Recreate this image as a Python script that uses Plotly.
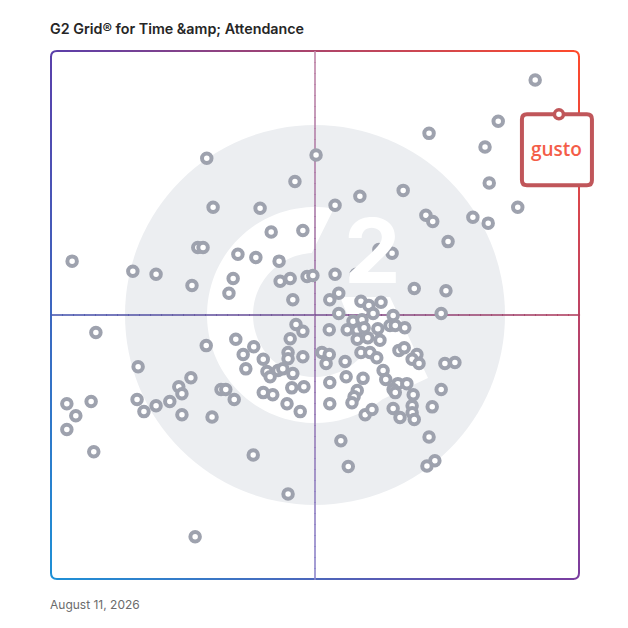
import numpy as np
import plotly.graph_objects as go

# ---------------- data (Satisfaction = x, Market Presence = y, 0-100) -------------
satisfaction = [
    91.7, 84.7, 71.6, 82.2, 83.0, 88.4, 79.9, 82.8, 71.0, 72.3, 75.2, 66.7, 58.5, 53.8, 50.2,
    46.2, 29.5, 30.7, 39.6, 41.7, 47.7, 27.8, 28.8, 35.4, 38.8, 43.2, 62.1, 64.6, 4.0, 15.5,
    19.9, 26.7, 34.5, 33.7, 43.4, 45.3, 48.5, 49.6, 53.8, 57.8, 45.8, 52.8, 54.5, 68.8, 74.8,
    58.7, 60.2, 62.5, 61.0, 54.5, 73.9, 64.8, 64.2, 65.2, 67.0, 46.4, 47.7, 52.7, 56.1, 57.2,
    58.0, 58.9, 59.3, 61.9, 58.0, 60.0, 62.3, 45.3, 35.0, 29.4, 38.4, 8.5, 36.4, 44.9, 44.9,
    47.7, 40.2, 51.3, 52.7, 52.1, 55.7, 58.7, 60.4, 61.7, 65.9, 66.9, 69.3, 68.4, 69.7, 74.6,
    76.5, 16.5, 36.9, 40.9, 41.5, 43.0, 43.9, 45.8, 62.9, 63.4, 52.8, 55.9, 59.1, 65.7, 67.4,
    26.5, 24.2, 24.8, 22.5, 19.9, 16.3, 17.6, 7.6, 3.0, 4.7, 3.0, 8.1, 24.8, 30.5, 32.2,
    33.1, 34.7, 40.2, 42.0, 45.6, 47.9, 44.7, 47.2, 52.8, 58.0, 57.4, 57.0, 59.5, 60.8, 64.8,
    65.2, 68.6, 64.8, 66.1, 68.4, 68.4, 68.8, 72.2, 73.9, 71.6, 72.7, 71.2, 56.3, 54.9, 38.3,
    44.9, 27.3,
]
market_presence = [
    94.5, 86.7, 84.4, 81.8, 75.0, 70.4, 68.5, 67.4, 68.9, 67.7, 63.9, 73.6, 72.5, 70.8, 80.3,
    75.3, 79.7, 70.4, 70.2, 65.7, 66.0, 62.8, 62.8, 61.5, 60.9, 60.2, 62.4, 61.7, 60.2, 58.3,
    57.7, 55.6, 56.9, 54.1, 56.4, 56.9, 57.3, 57.5, 57.7, 57.7, 52.9, 52.9, 54.1, 55.0, 54.6,
    52.6, 51.8, 52.4, 50.3, 50.3, 50.3, 49.9, 48.0, 48.0, 47.6, 48.2, 46.9, 47.2, 47.2, 48.8,
    47.1, 49.1, 47.6, 47.4, 45.4, 45.7, 45.2, 45.5, 45.4, 44.2, 44.0, 46.7, 42.5, 42.9, 41.7,
    42.1, 41.6, 42.9, 42.5, 40.8, 41.2, 42.9, 42.9, 41.9, 43.3, 43.8, 42.5, 41.6, 40.8, 40.8,
    41.0, 40.2, 39.8, 39.3, 38.3, 39.5, 39.8, 38.9, 39.5, 37.8, 37.2, 38.3, 38.0, 37.0, 37.0,
    38.1, 36.4, 35.1, 33.6, 32.8, 34.0, 31.7, 33.6, 33.2, 30.9, 28.3, 24.1, 31.1, 30.7, 35.9,
    35.9, 34.0, 35.3, 34.9, 36.2, 36.4, 33.2, 31.7, 33.2, 35.7, 34.5, 33.4, 31.1, 32.1, 35.9,
    35.3, 34.9, 32.3, 30.6, 32.8, 31.5, 30.2, 32.6, 35.9, 26.9, 22.4, 21.4, 21.3, 26.2, 23.5,
    16.1, 8.0,
]
highlight_name = "gusto"
highlight_x = [96.2]
highlight_y = [88.0]

title_text = "G2 Grid® for Time &amp;amp; Attendance"
date_text = "August 11, 2026"

X_RANGE = [0, 100]
Y_RANGE = [0, 100]

# ---------------- helpers for decoration -------------------------------------------
L, T, W = 51, 51, 528  # plot area on the page, px (square)


def px2paper(px, py):
    return (px - L) / W, (T + W - py) / W


def rgb(c):
    return "rgb({},{},{})".format(*[int(round(v)) for v in c])


def lerp(a, b, t):
    return tuple(a[i] + (b[i] - a[i]) * t for i in range(3))


TL = (90, 63, 170)
TR = (255, 74, 43)
BL = (30, 144, 214)
BR = (122, 61, 160)

shapes = []

# watermark circle
cx, cy = 0.5, 0.5
R = 190 / W
shapes.append(dict(type="circle", xref="paper", yref="paper", x0=cx - R, x1=cx + R,
                   y0=cy - R, y1=cy + R, fillcolor="#eceef1", line=dict(width=0), layer="below"))

# white "G" shape
C = (315.0, 315.0)
ro, ri = 108.0, 62.0


def pol(r, adeg):
    a = np.deg2rad(adeg)
    return (C[0] + r * np.cos(a), C[1] - r * np.sin(a))


pts = []
for a in np.linspace(80, 308.7, 80):
    pts.append(pol(ro, a))
pts += [(428, 378), (390, 297), (340, 297), (363.6, 353.5)]
for a in np.linspace(321.6, 93, 80):
    pts.append(pol(ri, a))
path = "M " + " L ".join("{:.5f},{:.5f}".format(*px2paper(*p)) for p in pts) + " Z"
shapes.append(dict(type="path", xref="paper", yref="paper", path=path,
                   fillcolor="white", line=dict(width=0), layer="below"))

# gradient border
N = 48
rx = 6 / W
ry = 6 / W
bw = 2


def seg_line(x0, y0, x1, y1, col, width):
    shapes.append(dict(type="line", xref="paper", yref="paper", x0=x0, y0=y0, x1=x1, y1=y1,
                       line=dict(color=rgb(col), width=width), layer="below"))


xs = np.linspace(rx, 1 - rx, N + 1)
for i in range(N):
    t = (xs[i] + xs[i + 1]) / 2
    seg_line(xs[i], 1, xs[i + 1] + 0.002, 1, lerp(TL, TR, t), bw)
    seg_line(xs[i], 0, xs[i + 1] + 0.002, 0, lerp(BL, BR, t), bw)
ys = np.linspace(ry, 1 - ry, N + 1)
for i in range(N):
    t = 1 - (ys[i] + ys[i + 1]) / 2
    seg_line(0, ys[i], 0, ys[i + 1] + 0.002, lerp(TL, BL, t), bw)
    seg_line(1, ys[i], 1, ys[i + 1] + 0.002, lerp(TR, BR, t), bw)
corners = [
    ("M 0,{} Q 0,1 {},1".format(1 - ry, rx), TL),
    ("M {},1 Q 1,1 1,{}".format(1 - rx, 1 - ry), TR),
    ("M 0,{} Q 0,0 {},0".format(ry, rx), BL),
    ("M {},0 Q 1,0 1,{}".format(1 - rx, ry), BR),
]
for p, col in corners:
    shapes.append(dict(type="path", xref="paper", yref="paper", path=p,
                       line=dict(color=rgb(col), width=bw), layer="below"))

# gradient quadrant lines
V_TOP, V_MID, V_BOT = (192, 134, 168), (158, 116, 170), (141, 134, 204)
H_LEFT, H_MID, H_RIGHT = (74, 90, 178), (123, 85, 150), (178, 64, 95)
M = 48
vals = np.linspace(0, 1, M + 1)
for i in range(M):
    t = (vals[i] + vals[i + 1]) / 2
    cv = lerp(V_TOP, V_MID, t * 2) if t < 0.5 else lerp(V_MID, V_BOT, (t - 0.5) * 2)
    shapes.append(dict(type="line", xref="paper", yref="paper", x0=0.5, x1=0.5,
                       y0=1 - vals[i], y1=1 - vals[i + 1] - 0.002,
                       line=dict(color=rgb(cv), width=1.6), layer="below"))
    ch = lerp(H_LEFT, H_MID, t * 2) if t < 0.5 else lerp(H_MID, H_RIGHT, (t - 0.5) * 2)
    shapes.append(dict(type="line", xref="paper", yref="paper", y0=0.5, y1=0.5,
                       x0=vals[i], x1=vals[i + 1] + 0.002,
                       line=dict(color=rgb(ch), width=1.6), layer="below"))

# Gusto callout box (pixel-sized, anchored on the highlighted point; paper refs so it is not clipped)
anchor_px = (highlight_x[0] - X_RANGE[0]) / (X_RANGE[1] - X_RANGE[0])
anchor_py = (highlight_y[0] - Y_RANGE[0]) / (Y_RANGE[1] - Y_RANGE[0])
bx0, bx1, by0, by1, rr = -37, 33, 0, -71, 5
box_path = (
    f"M {bx0 + rr},{by0} L {bx1 - rr},{by0} Q {bx1},{by0} {bx1},{by0 - rr} "
    f"L {bx1},{by1 + rr} Q {bx1},{by1} {bx1 - rr},{by1} L {bx0 + rr},{by1} "
    f"Q {bx0},{by1} {bx0},{by1 + rr} L {bx0},{by0 - rr} Q {bx0},{by0} {bx0 + rr},{by0} Z"
)
shapes.append(dict(type="path", xref="paper", yref="paper", xsizemode="pixel", ysizemode="pixel",
                   xanchor=anchor_px, yanchor=anchor_py, path=box_path,
                   fillcolor="white", line=dict(color="#c0565a", width=4), layer="between"))

fig = go.Figure()
fig.add_trace(go.Scatter(
    x=satisfaction, y=market_presence, mode="markers",
    marker=dict(size=9.5, color="white", line=dict(color="#9ea2ae", width=4)),
    hoverinfo="skip", showlegend=False,
))
fig.add_trace(go.Scatter(
    x=highlight_x, y=highlight_y, mode="markers",
    marker=dict(size=9, color="white", line=dict(color="#c0565a", width=3.5)),
    hoverinfo="skip", showlegend=False, cliponaxis=False,
))

annotations = [
    dict(text=highlight_name, x=highlight_x[0], y=highlight_y[0], xref="x", yref="y",
         xshift=-2, yshift=-35, showarrow=False,
         font=dict(family="Open Sans", size=19, color="#f45d48", weight=600)),
    dict(text="2", xref="paper", yref="paper", x=px2paper(372, 250)[0], y=px2paper(372, 250)[1],
         showarrow=False, font=dict(family="Inter", size=90, color="white", weight=700)),
    dict(text=title_text, xref="paper", yref="paper", x=0, y=px2paper(0, 28.5)[1],
         xanchor="left", yanchor="middle", showarrow=False, xshift=-3,
         font=dict(family="Inter", size=14.3, color="#262626", weight=600)),
    dict(text=date_text, xref="paper", yref="paper", x=0, y=px2paper(0, 604)[1],
         xanchor="left", yanchor="middle", showarrow=False, xshift=-3,
         font=dict(family="Inter", size=12, color="#6b6b6b")),
]

# the page body adds an 8 px offset, so the figure is 620 px and the margins are reduced by 8
fig.update_layout(
    width=620, height=620,
    margin=dict(l=43, r=49, t=43, b=49, pad=0),
    paper_bgcolor="white", plot_bgcolor="white",
    xaxis=dict(range=X_RANGE, visible=False, fixedrange=True),
    yaxis=dict(range=Y_RANGE, visible=False, fixedrange=True),
    shapes=shapes, annotations=annotations,
    showlegend=False,
)

fig.write_html("out.html")
